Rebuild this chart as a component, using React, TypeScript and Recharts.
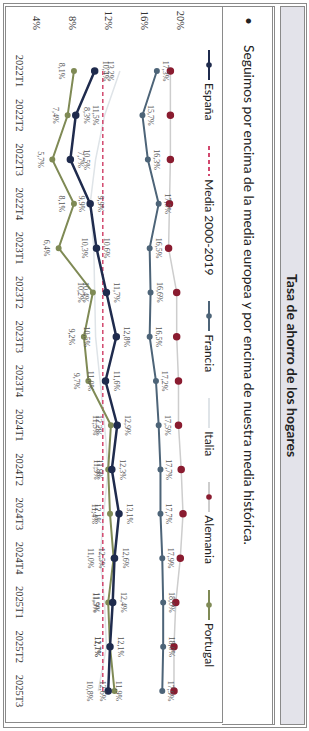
import { LineChart, Line, XAxis, YAxis, LabelList } from 'recharts';

const periods = [
  '2022T1', '2022T2', '2022T3', '2022T4',
  '2023T1', '2023T2', '2023T3', '2023T4',
  '2024T1', '2024T2', '2024T3', '2024T4',
  '2025T1', '2025T2', '2025T3',
];

const espana = [10.4, 8.3, 7.7, 9.9, 10.6, 11.7, 12.8, 11.6, 12.9, 12.3, 13.1, 12.6, 12.4, 12.1, 11.9];
const media = [11.3, 11.3, 11.3, 11.3, 11.3, 11.3, 11.3, 11.3, 11.3, 11.3, 11.3, 11.3, 11.3, 11.3, 11.3];
const francia = [17.3, 15.7, 16.3, 17.5, 16.5, 16.6, 16.5, 17.2, 17.5, 17.7, 17.7, 17.9, 18.0, 18.0, 17.9];
const italia = [13.2, 11.5, 10.5, 9.9, 10.3, 10.4, 10.5, 11.0, 11.5, 11.9, 11.4, 11.0, 11.5, 11.7, 10.8];
const alemania = [18.8, 18.8, 18.8, 18.7, 18.6, 19.5, 19.5, 19.7, 19.7, 20.0, 20.2, 19.9, 19.4, 19.2, 19.2];
const portugal = [8.1, 7.4, 5.7, 8.1, 6.4, 10.2, 9.2, 9.7, 12.2, 11.9, 12.1, 12.5, 11.9, 12.1, 12.6];

const yTicks = [4, 8, 12, 16, 20];

const data = periods.map((p, i) => ({
  periodo: p,
  espana: espana[i],
  media: media[i],
  francia: francia[i],
  italia: italia[i],
  alemania: alemania[i],
  portugal: portugal[i],
}));

const C = {
  espana: '#1f2b4d',
  media: '#d2486e',
  francia: '#4d6478',
  italia: '#dfe4e8',
  alemaniaLine: '#cdcdcd',
  alemaniaDot: '#8a1c30',
  portugal: '#7f8a55',
  border: '#8a8a8a',
  label: '#555',
};

const pct = (v: any) => `${Number(v).toFixed(1).replace('.', ',')}%`;
const labelStyle = { fontSize: 8, fill: C.label, fontFamily: 'Liberation Serif' };
const tickStyle = { fontSize: 10.5, fill: '#333', fontFamily: 'Liberation Serif' };

function LegendIcon({ color, dash, dot, dotColor }: { color: string; dash?: string; dot?: boolean; dotColor?: string }) {
  return (
    <svg width={30} height={10} style={{ marginRight: 3 }}>
      <line x1={0} y1={5} x2={30} y2={5} stroke={color} strokeWidth={2} strokeDasharray={dash} />
      {dot && <circle cx={15} cy={5} r={2.8} fill={dotColor ?? color} />}
    </svg>
  );
}

const legendItems = [
  { name: 'España', color: C.espana, dot: true },
  { name: 'Media 2000-2019', color: C.media, dash: '4 3' },
  { name: 'Francia', color: C.francia, dot: true },
  { name: 'Italia', color: C.italia },
  { name: 'Alemania', color: C.alemaniaLine, dot: true, dotColor: C.alemaniaDot },
  { name: 'Portugal', color: C.portugal, dot: true },
];

export default function App() {
  return (
    <div style={{ position: 'fixed', left: 0, top: 0, width: 309, height: 731, overflow: 'hidden', background: '#fff' }}>
      <div
        style={{
          position: 'absolute', left: 0, top: 0, width: 731, height: 309,
          transformOrigin: '0 0', transform: 'translate(309px, 0) rotate(90deg)',
          fontFamily: 'Lato, sans-serif', color: '#222',
        }}
      >
        <div style={{ position: 'absolute', left: 3, top: 2, width: 723, height: 302, border: `1px solid ${C.border}` }} />
        <div
          style={{
            position: 'absolute', left: 6, top: 4, width: 717, height: 23, background: '#e3e3ea',
            border: `1px solid ${C.border}`, textAlign: 'center', lineHeight: '23px', fontWeight: 700, fontSize: 14,
          }}
        >
          Tasa de ahorro de los hogares
        </div>
        <div style={{ position: 'absolute', left: 6, top: 34, width: 717, height: 50, borderTop: `3px double ${C.border}`, borderLeft: `1px solid ${C.border}`, borderRight: `1px solid ${C.border}` }}>
          <div style={{ position: 'absolute', left: 10, top: 14, fontSize: 13.8, whiteSpace: 'nowrap' }}>
            <span style={{ marginRight: 20 }}>•</span>
            Seguimos por encima de la media europea y por encima de nuestra media histórica.
          </div>
        </div>
        <div style={{ position: 'absolute', left: 6, top: 86, width: 717, height: 218, border: `1px solid ${C.border}`, boxSizing: 'border-box' }} />
        <div style={{ position: 'absolute', left: 50, top: 92, width: 617, display: 'flex', justifyContent: 'space-between', fontSize: 12 }}>
          {legendItems.map((it) => (
            <div key={it.name} style={{ display: 'flex', alignItems: 'center', whiteSpace: 'nowrap' }}>
              <LegendIcon color={it.color} dash={it.dash} dot={it.dot} dotColor={it.dotColor} />
              {it.name}
            </div>
          ))}
        </div>
        <div style={{ position: 'absolute', left: 3, top: 87 }}>
          <LineChart width={725} height={218} data={data} margin={{ top: 39, right: 15, bottom: 8, left: 0 }}>
            <XAxis dataKey="periodo" axisLine={false} tickLine={false} tick={tickStyle} tickMargin={8} height={25} interval={0} padding={{ left: 22, right: 22 }} />
            <YAxis domain={[4, 20]} ticks={yTicks} tickFormatter={(v) => `${v}%`} axisLine={false} tickLine={false} tick={tickStyle} width={46} tickMargin={13} />
            <Line dataKey="italia" stroke={C.italia} strokeWidth={1.5} dot={false} isAnimationActive={false}>
              <LabelList dataKey="italia" position="bottom" offset={6} formatter={pct} style={labelStyle} />
            </Line>
            <Line dataKey="alemania" stroke={C.alemaniaLine} strokeWidth={1.5} dot={{ r: 3, fill: C.alemaniaDot, stroke: C.alemaniaDot }} isAnimationActive={false} />
            <Line dataKey="media" stroke={C.media} strokeWidth={1.5} strokeDasharray="4 3" dot={false} isAnimationActive={false} />
            <Line dataKey="francia" stroke={C.francia} strokeWidth={2} dot={{ r: 2, fill: C.francia, stroke: C.francia }} isAnimationActive={false}>
              <LabelList dataKey="francia" position="top" offset={6} formatter={pct} style={labelStyle} />
            </Line>
            <Line dataKey="portugal" stroke={C.portugal} strokeWidth={2} dot={{ r: 2, fill: C.portugal, stroke: C.portugal }} isAnimationActive={false}>
              <LabelList dataKey="portugal" position="bottom" offset={9} formatter={pct} style={labelStyle} />
            </Line>
            <Line dataKey="espana" stroke={C.espana} strokeWidth={2.5} dot={{ r: 2.5, fill: C.espana, stroke: C.espana }} isAnimationActive={false}>
              <LabelList dataKey="espana" position="top" offset={8} formatter={pct} style={labelStyle} />
            </Line>
          </LineChart>
        </div>
      </div>
    </div>
  );
}
